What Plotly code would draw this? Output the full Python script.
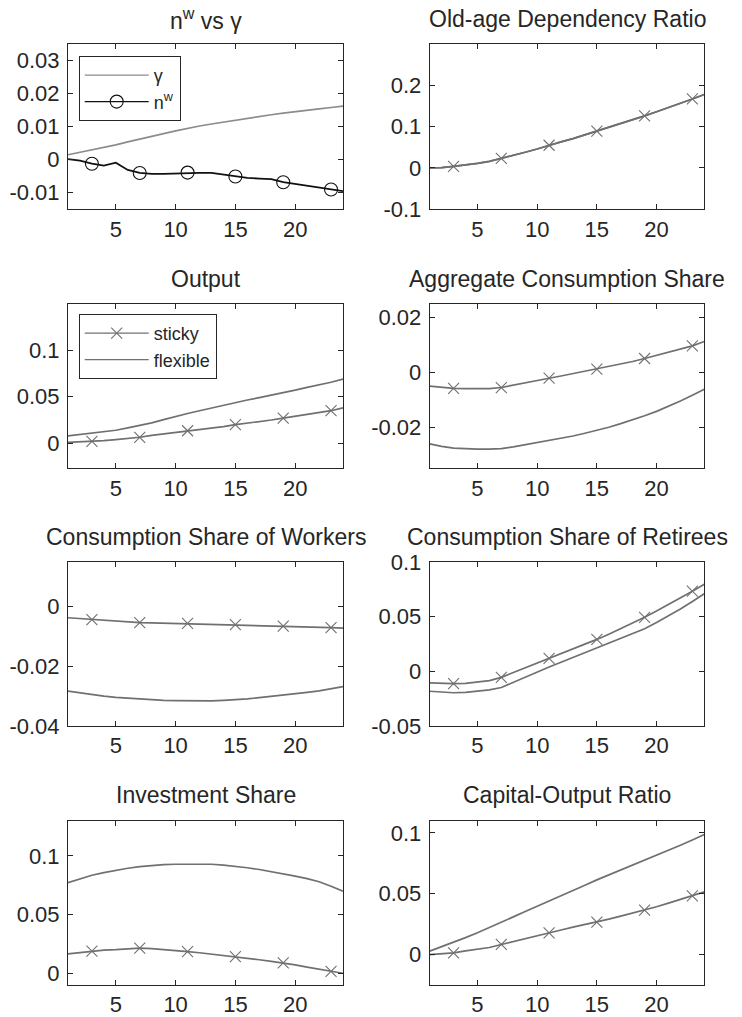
import plotly.graph_objects as go

# ---------------- data ----------------
periods = list(range(1, 25))
marker_periods = [3, 7, 11, 15, 19, 23]
x_ticks = [5, 10, 15, 20]

gamma = [0.0015, 0.0022, 0.0030, 0.0037, 0.0045, 0.0054, 0.0063, 0.0071, 0.0079, 0.0087,
         0.0095, 0.0102, 0.0108, 0.0114, 0.0120, 0.0126, 0.0131, 0.0136, 0.0141, 0.0146,
         0.0150, 0.0154, 0.0158, 0.0162]
n_w = [0.0002, -0.0003, -0.0012, -0.0018, -0.0009, -0.0031, -0.0040, -0.0043, -0.0043, -0.0042,
       -0.0039, -0.0040, -0.0040, -0.0045, -0.0051, -0.0055, -0.0057, -0.0059, -0.0068, -0.0073,
       -0.0079, -0.0083, -0.0090, -0.0095]

oadr_sticky = [0.000, 0.001, 0.004, 0.007, 0.011, 0.016, 0.023, 0.030, 0.038, 0.046,
               0.055, 0.063, 0.071, 0.080, 0.089, 0.098, 0.107, 0.116, 0.126, 0.136,
               0.146, 0.156, 0.167, 0.178]
oadr_flexible = [0.000, 0.001, 0.004, 0.007, 0.011, 0.016, 0.023, 0.030, 0.038, 0.046,
                 0.055, 0.063, 0.071, 0.080, 0.089, 0.098, 0.107, 0.116, 0.126, 0.136,
                 0.146, 0.156, 0.167, 0.178]

output_sticky = [0.001, 0.0015, 0.002, 0.003, 0.004, 0.005, 0.0065, 0.0085, 0.010, 0.012,
                 0.0135, 0.015, 0.0165, 0.018, 0.020, 0.0215, 0.023, 0.025, 0.027, 0.029,
                 0.031, 0.033, 0.035, 0.038]
output_flexible = [0.008, 0.0095, 0.011, 0.0125, 0.014, 0.0165, 0.019, 0.022, 0.0255, 0.029,
                   0.032, 0.035, 0.038, 0.041, 0.044, 0.0465, 0.049, 0.0515, 0.054, 0.057,
                   0.060, 0.0625, 0.0655, 0.069]

aggc_sticky = [-0.0050, -0.0055, -0.0058, -0.0059, -0.0059, -0.0059, -0.0055, -0.0046, -0.0037, -0.0029,
               -0.0021, -0.0013, -0.0004, 0.0004, 0.0012, 0.0021, 0.0030, 0.0040, 0.0051, 0.0062,
               0.0073, 0.0085, 0.0097, 0.0113]
aggc_flexible = [-0.0261, -0.0270, -0.0276, -0.0279, -0.0280, -0.0280, -0.0278, -0.0272, -0.0264, -0.0257,
                 -0.0249, -0.0241, -0.0232, -0.0222, -0.0212, -0.0200, -0.0187, -0.0173, -0.0158, -0.0142,
                 -0.0124, -0.0104, -0.0083, -0.0061]

workc_sticky = [-0.0037, -0.0040, -0.0043, -0.0045, -0.0047, -0.0050, -0.0053, -0.0054, -0.0055, -0.0055,
                -0.0056, -0.0057, -0.0058, -0.0059, -0.0060, -0.0061, -0.0062, -0.0063, -0.0065, -0.0066,
                -0.0067, -0.0068, -0.0070, -0.0072]
workc_flexible = [-0.0283, -0.0289, -0.0295, -0.0300, -0.0304, -0.0307, -0.0310, -0.0312, -0.0314, -0.0315,
                  -0.0316, -0.0316, -0.0316, -0.0314, -0.0312, -0.0309, -0.0305, -0.0301, -0.0297, -0.0292,
                  -0.0287, -0.0282, -0.0276, -0.0268]

retc_sticky = [-0.0106, -0.0110, -0.0112, -0.0110, -0.0096, -0.0085, -0.0055, -0.0012, 0.0032, 0.0075,
               0.0118, 0.0160, 0.0202, 0.0246, 0.0292, 0.0340, 0.0389, 0.0440, 0.0494, 0.0551,
               0.0610, 0.0670, 0.0733, 0.0797]
retc_flexible = [-0.0182, -0.0192, -0.0196, -0.0193, -0.0184, -0.0170, -0.0148, -0.0100, -0.0052, -0.0005,
                 0.0040, 0.0083, 0.0126, 0.0170, 0.0215, 0.0258, 0.0302, 0.0345, 0.0390, 0.0446,
                 0.0506, 0.0570, 0.0638, 0.0710]

inv_sticky = [0.0165, 0.0178, 0.0188, 0.0198, 0.0201, 0.0207, 0.0214, 0.0210, 0.0203, 0.0194,
              0.0184, 0.0175, 0.0164, 0.0153, 0.0142, 0.0129, 0.0115, 0.0101, 0.0088, 0.0071,
              0.0053, 0.0035, 0.0017, 0.0000]
inv_flexible = [0.0772, 0.0805, 0.0835, 0.0858, 0.0877, 0.0895, 0.0908, 0.0918, 0.0925, 0.0929,
                0.0931, 0.0931, 0.0929, 0.0922, 0.0912, 0.0899, 0.0884, 0.0867, 0.0848, 0.0828,
                0.0806, 0.0780, 0.0742, 0.0700]

ky_sticky = [0.0000, 0.0007, 0.0014, 0.0030, 0.0045, 0.0058, 0.0083, 0.0108, 0.0133, 0.0157,
             0.0179, 0.0202, 0.0225, 0.0246, 0.0267, 0.0291, 0.0316, 0.0341, 0.0366, 0.0393,
             0.0423, 0.0452, 0.0482, 0.0515]
ky_flexible = [0.0028, 0.0063, 0.0100, 0.0139, 0.0179, 0.0221, 0.0265, 0.0310, 0.0354, 0.0396,
               0.0439, 0.0482, 0.0526, 0.0570, 0.0614, 0.0654, 0.0694, 0.0734, 0.0773, 0.0813,
               0.0855, 0.0898, 0.0942, 0.0986]

titles = ["n<sup>w</sup> vs γ", "Old-age Dependency Ratio", "Output", "Aggregate Consumption Share",
          "Consumption Share of Workers", "Consumption Share of Retirees", "Investment Share",
          "Capital-Output Ratio"]

y_ranges = [[-0.015, 0.035], [-0.1, 0.3], [-0.0268, 0.1495], [-0.035, 0.025],
            [-0.04, 0.015], [-0.05, 0.1], [-0.01, 0.13], [-0.025, 0.11]]
y_tickvals = [[-0.01, 0, 0.01, 0.02, 0.03], [-0.1, 0, 0.1, 0.2], [0, 0.05, 0.1], [-0.02, 0, 0.02],
              [-0.04, -0.02, 0], [-0.05, 0, 0.05, 0.1], [0, 0.05, 0.1], [0, 0.05, 0.1]]
y_ticktext = [["-0.01", "0", "0.01", "0.02", "0.03"], ["-0.1", "0", "0.1", "0.2"], ["0", "0.05", "0.1"],
              ["-0.02", "0", "0.02"], ["-0.04", "-0.02", "0"], ["-0.05", "0", "0.05", "0.1"],
              ["0", "0.05", "0.1"], ["0", "0.05", "0.1"]]

panel_series = [
    None,
    (oadr_sticky, oadr_flexible),
    (output_sticky, output_flexible),
    (aggc_sticky, aggc_flexible),
    (workc_sticky, workc_flexible),
    (retc_sticky, retc_flexible),
    (inv_sticky, inv_flexible),
    (ky_sticky, ky_flexible),
]

# ---------------- layout geometry (pixels) ----------------
W, H = 742, 1017
COL_X = [(68, 343), (429.7, 704.3)]
ROW_Y = [(44, 209.3), (304, 468.3), (562, 726), (820.7, 985)]

FONT = "Liberation Sans, Arial, Helvetica, sans-serif"
TXT = "#262626"
GRAY = "#707070"
LIGHT = "#8c8c8c"
BLACK = "#111111"

fig = go.Figure()


def axname(i):
    return "" if i == 0 else str(i + 1)


def add_line(i, y, color, width=1.7, symbol=None, msize=11):
    ax = axname(i)
    fig.add_trace(go.Scatter(x=periods, y=y, mode="lines", line=dict(color=color, width=width),
                             xaxis="x" + ax, yaxis="y" + ax, showlegend=False, hoverinfo="skip"))
    if symbol:
        mx = marker_periods
        my = [y[periods.index(p)] for p in mx]
        fig.add_trace(go.Scatter(x=mx, y=my, mode="markers",
                                 marker=dict(symbol=symbol, size=msize, color=color,
                                             line=dict(color=color, width=1.1)),
                                 xaxis="x" + ax, yaxis="y" + ax, showlegend=False, hoverinfo="skip"))


def add_legend_entry(i, name, color, legend, symbol=None, msize=11):
    ax = axname(i)
    mode = "lines+markers" if symbol else "lines"
    kw = dict(marker=dict(symbol=symbol, size=msize, color=color,
                          line=dict(color=color, width=1.1))) if symbol else {}
    fig.add_trace(go.Scatter(x=[None], y=[None], mode=mode, name=name,
                             line=dict(color=color, width=1.2), legend=legend,
                             xaxis="x" + ax, yaxis="y" + ax, showlegend=True, **kw))


# panel 1
add_line(0, gamma, LIGHT)
add_line(0, n_w, BLACK, width=1.8, symbol="circle-open", msize=13)
add_legend_entry(0, "γ", LIGHT, "legend")
add_legend_entry(0, "n<sup>w</sup>", BLACK, "legend", symbol="circle-open", msize=13)

for i in range(1, 8):
    sticky, flexible = panel_series[i]
    add_line(i, flexible, GRAY)
    add_line(i, sticky, GRAY, symbol="x-thin-open")

add_legend_entry(2, "sticky", GRAY, "legend2", symbol="x-thin-open")
add_legend_entry(2, "flexible", GRAY, "legend2")

annotations = []
for i in range(8):
    r, c = divmod(i, 2)
    ax = axname(i)
    x0, x1 = COL_X[c]
    y0, y1 = ROW_Y[r]
    common = dict(showline=True, linecolor=TXT, linewidth=1, mirror="ticks", ticks="inside",
                  ticklen=5, tickcolor=TXT, tickwidth=1, showgrid=False, zeroline=False,
                  tickfont=dict(family=FONT, size=22, color=TXT), fixedrange=True, automargin=False)
    fig.layout["xaxis" + ax] = dict(domain=[x0 / W, x1 / W], anchor="y" + ax, range=[1, 24],
                                    tickmode="array", tickvals=x_ticks,
                                    ticktext=[str(v) for v in x_ticks], ticklabelstandoff=0, **common)
    fig.layout["yaxis" + ax] = dict(domain=[1 - y1 / H, 1 - y0 / H], anchor="x" + ax,
                                    range=y_ranges[i], tickmode="array", tickvals=y_tickvals[i],
                                    ticktext=y_ticktext[i], ticklabelstandoff=3, **common)
    annotations.append(dict(text=titles[i], xref="paper", yref="paper",
                            x=(x0 + x1) / 2 / W, y=1 - (y0 - 25.5) / H,
                            xanchor="center", yanchor="middle", showarrow=False,
                            font=dict(family=FONT, size=23, color=TXT)))

legend_common = dict(xanchor="left", yanchor="top", bordercolor=TXT, borderwidth=1,
                     bgcolor="white", font=dict(family=FONT, size=18, color=TXT),
                     itemwidth=64, tracegroupgap=0)

fig.update_layout(
    width=W, height=H, autosize=False,
    margin=dict(l=0, r=0, t=0, b=0, autoexpand=False),
    paper_bgcolor="white", plot_bgcolor="white",
    annotations=annotations,
    legend=dict(x=78.7 / W, y=1 - 56 / H, entrywidth=40, **legend_common),
    legend2=dict(x=78.7 / W, y=1 - 314 / H, **legend_common),
    hovermode=False,
)

fig.write_html("out.html")
